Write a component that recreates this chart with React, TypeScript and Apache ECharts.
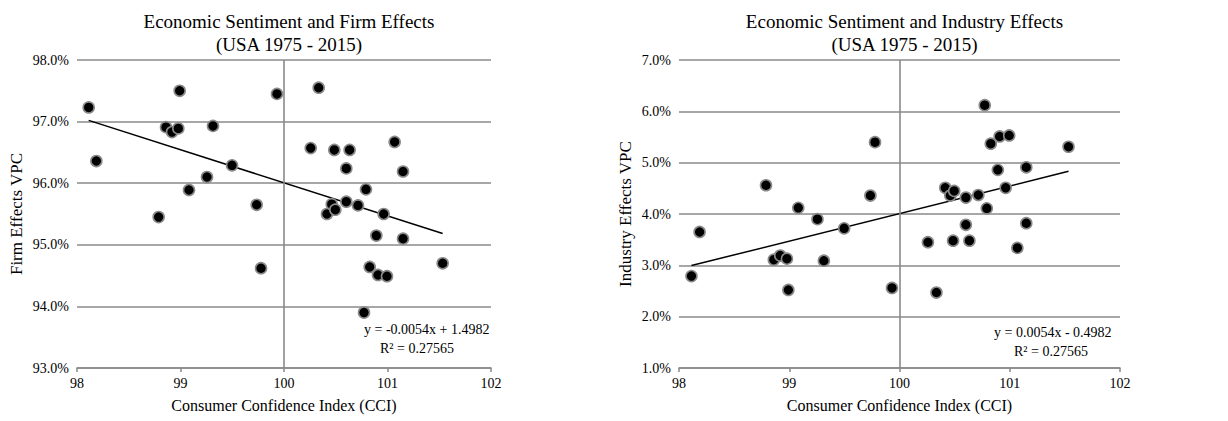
import React, { useEffect, useRef } from "react";
import * as echarts from "echarts";

const cci = [98.113, 98.187, 98.789, 98.86, 98.918, 98.979, 98.992, 99.082, 99.256, 99.314, 99.498, 99.736, 99.778, 99.932, 100.258, 100.335, 100.415, 100.461, 100.486, 100.496, 100.602, 100.602, 100.634, 100.715, 100.773, 100.792, 100.828, 100.892, 100.908, 100.963, 100.995, 101.069, 101.15, 101.15, 101.533];
const firmVPC = [97.23, 96.36, 95.45, 96.91, 96.83, 96.89, 97.5, 95.89, 96.1, 96.93, 96.29, 95.65, 94.62, 97.45, 96.57, 97.55, 95.5, 95.66, 96.54, 95.57, 96.24, 95.7, 96.54, 95.64, 93.9, 95.9, 94.64, 95.15, 94.51, 95.5, 94.49, 96.67, 96.19, 95.1, 94.7];
const industryVPC = [2.79, 3.65, 4.56, 3.11, 3.19, 3.13, 2.52, 4.12, 3.9, 3.09, 3.72, 4.36, 5.4, 2.56, 3.45, 2.47, 4.51, 4.36, 3.48, 4.45, 3.79, 4.32, 3.48, 4.37, 6.12, 4.11, 5.37, 4.86, 5.51, 4.51, 5.53, 3.34, 3.82, 4.91, 5.31];

const titles = ["Economic Sentiment and Firm Effects\n(USA 1975 - 2015)", "Economic Sentiment and Industry Effects\n(USA 1975 - 2015)"];
const yNames = ["Firm Effects VPC", "Industry Effects VPC"];
const xName = "Consumer Confidence Index (CCI)";
const equations = ["y = -0.0054x + 1.4982", "y = 0.0054x - 0.4982"];
const r2Text = "R² = 0.27565";

function fit(xs: number[], ys: number[]) {
  const n = xs.length;
  const mx = xs.reduce((a, b) => a + b, 0) / n;
  const my = ys.reduce((a, b) => a + b, 0) / n;
  let sxy = 0, sxx = 0;
  for (let i = 0; i < n; i++) { sxy += (xs[i] - mx) * (ys[i] - my); sxx += (xs[i] - mx) ** 2; }
  const b = sxy / sxx;
  const a = my - b * mx;
  const x0 = Math.min(...xs), x1 = Math.max(...xs);
  return [[x0, a + b * x0], [x1, a + b * x1]];
}

const FONT = "Liberation Serif";
const GRAY = "#8a8a8a";

export default function App() {
  const ref = useRef<HTMLDivElement>(null);
  useEffect(() => {
    document.body.style.margin = "0";
    const chart = echarts.init(ref.current!, null, { renderer: "svg" });
    const grids = [
      { left: 77, width: 414, top: 60, height: 308 },
      { left: 679, width: 441, top: 60, height: 308 },
    ];
    const yRanges = [[93, 98], [1, 7]];
    const nameGaps = [52, 45];
    const vals = [firmVPC, industryVPC];
    const series: any[] = [];
    [0, 1].forEach((i) => {
      series.push({
        type: "line", xAxisIndex: i, yAxisIndex: i, data: fit(cci, vals[i]), symbol: "none",
        lineStyle: { color: "#000", width: 1.5 }, silent: true, z: 3,
        markLine: { silent: true, symbol: "none", label: { show: false }, lineStyle: { color: GRAY, width: 1.6, type: "solid" }, data: [{ xAxis: 100 }] },
      });
      series.push({
        type: "scatter", xAxisIndex: i, yAxisIndex: i, data: cci.map((x, k) => [x, vals[i][k]]),
        symbolSize: 11, itemStyle: { color: "#000", borderColor: "#8a8a8a", borderWidth: 1.6, opacity: 1 }, z: 4,
      });
    });
    chart.setOption({
      animation: false,
      title: titles.map((t, i) => ({
        text: t, left: grids[i].left + grids[i].width / 2, top: 5, textAlign: "center",
        textStyle: { fontFamily: FONT, fontSize: 19, fontWeight: "normal", color: "#000", lineHeight: 23 },
      })),
      grid: grids,
      xAxis: [0, 1].map((i) => ({
        type: "value", gridIndex: i, min: 98, max: 102, interval: 1, name: xName, nameLocation: "middle", nameGap: 29,
        nameTextStyle: { fontFamily: FONT, fontSize: 16, color: "#000" },
        axisLine: { lineStyle: { color: GRAY, width: 1.6 } },
        axisTick: { show: true, length: 4, lineStyle: { color: GRAY, width: 1.5 } },
        axisLabel: { fontFamily: FONT, fontSize: 14, color: "#000", margin: 8 },
        splitLine: { show: false },
      })),
      yAxis: [0, 1].map((i) => ({
        type: "value", gridIndex: i, min: yRanges[i][0], max: yRanges[i][1], interval: 1, name: yNames[i], nameLocation: "middle", nameGap: nameGaps[i],
        nameTextStyle: { fontFamily: FONT, fontSize: 17, color: "#000" },
        axisLine: { show: false }, axisTick: { show: false },
        axisLabel: { fontFamily: FONT, fontSize: 14, color: "#000", margin: 8, formatter: (v: number) => v.toFixed(1) + "%" },
        splitLine: { lineStyle: { color: GRAY, width: 1.6 } },
      })),
      graphic: [
        { type: "text", left: 364, top: 322, style: { text: equations[0], font: `14px "${FONT}"`, fill: "#000" } },
        { type: "text", left: 380, top: 341, style: { text: r2Text, font: `14px "${FONT}"`, fill: "#000" } },
        { type: "text", left: 994, top: 325, style: { text: equations[1], font: `14px "${FONT}"`, fill: "#000" } },
        { type: "text", left: 1014, top: 344, style: { text: r2Text, font: `14px "${FONT}"`, fill: "#000" } },
      ],
      series,
    });
    return () => chart.dispose();
  }, []);
  return <div ref={ref} style={{ width: 1228, height: 421 }} />;
}
